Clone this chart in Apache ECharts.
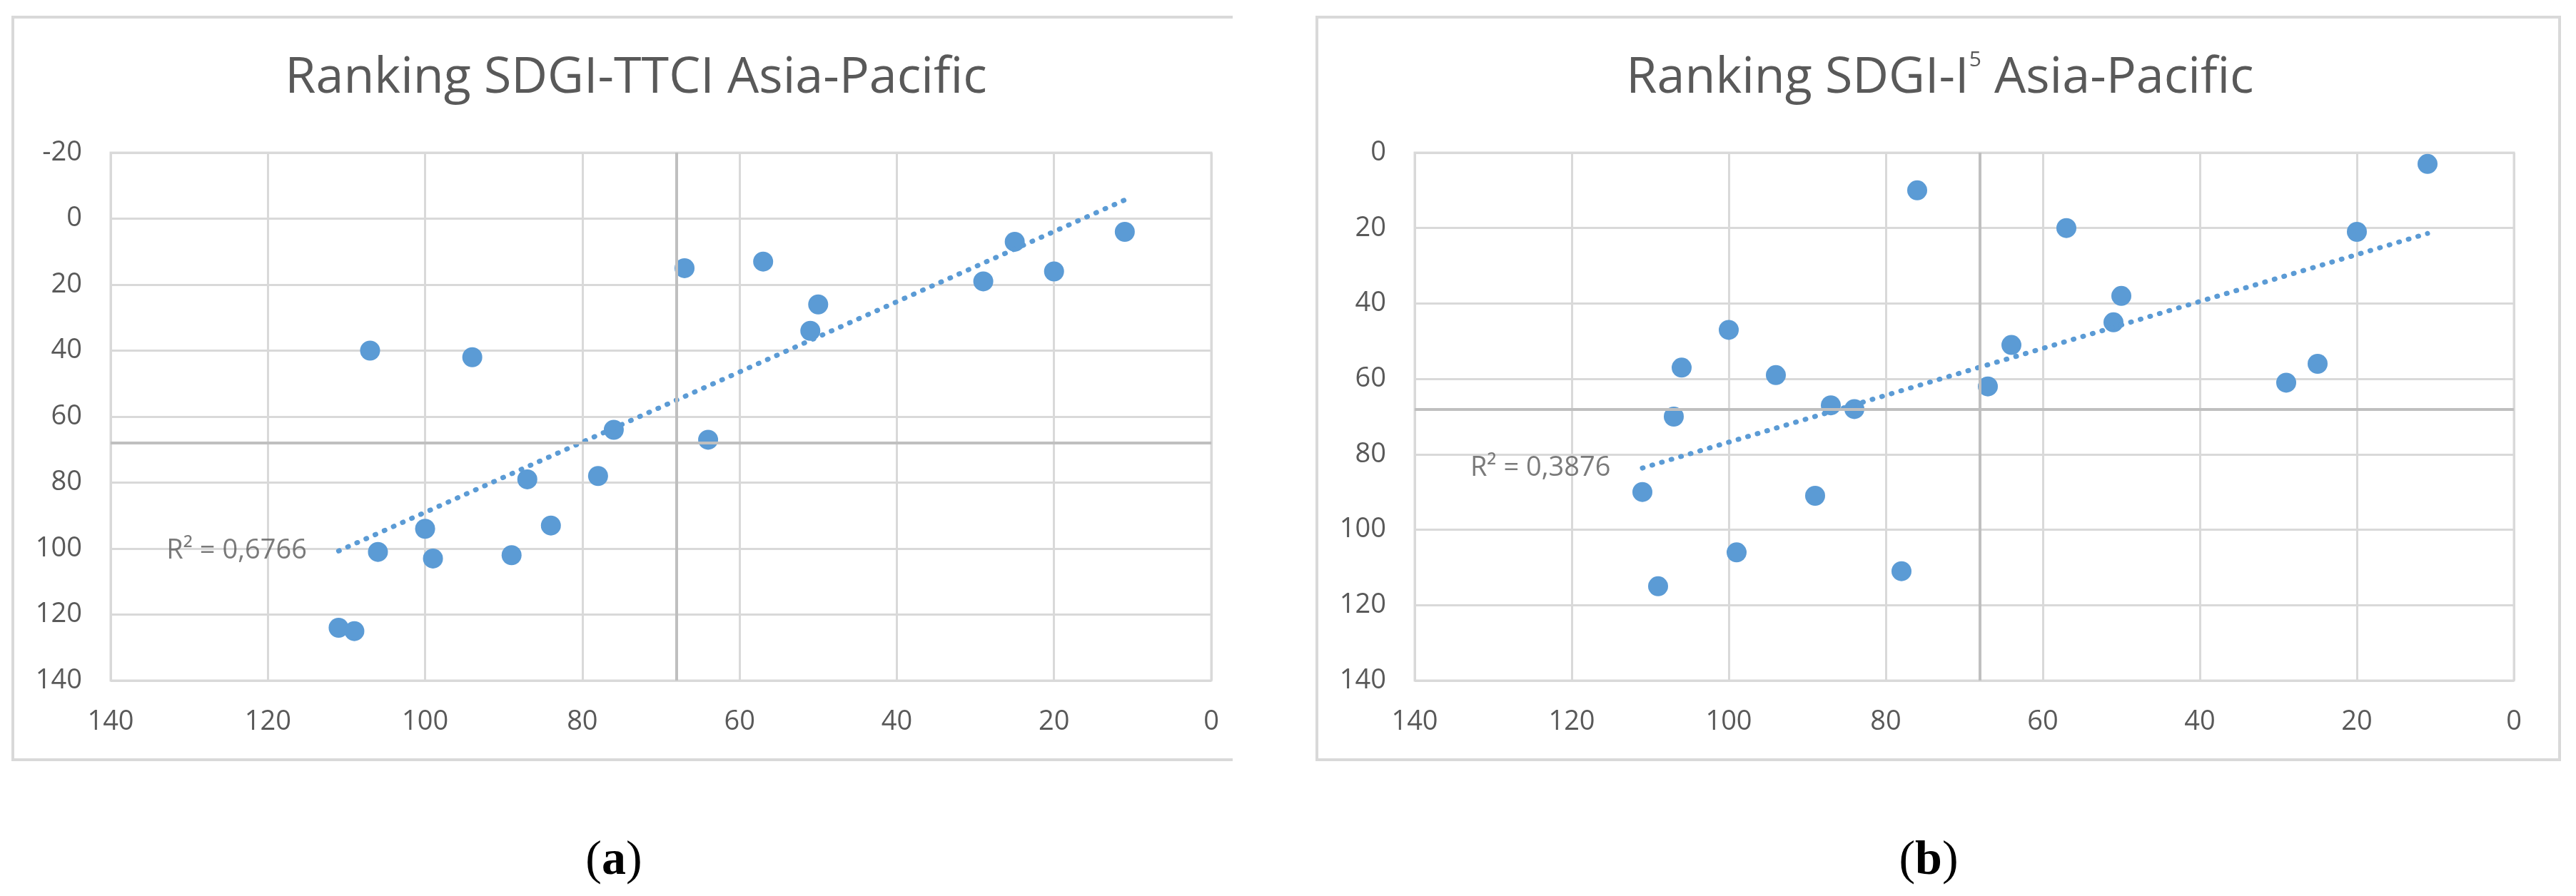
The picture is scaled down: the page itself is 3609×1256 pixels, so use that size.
<!DOCTYPE html>
<html>
<head>
<meta charset="utf-8">
<script src="https://cdn.jsdelivr.net/npm/echarts@6/dist/echarts.min.js"></script>
<style>
html,body{margin:0;padding:0;background:#fff;}
#chart{width:3609px;height:1256px;}
</style>
</head>
<body>
<div id="chart"></div>
<script>
// ---- data ----
const sdgiRank = [11, 25, 20, 29, 57, 67, 50, 51, 107, 94, 76, 64, 78, 87, 84, 100, 106, 99, 89, 111, 109];
const ttciRank = [4, 7, 16, 19, 13, 15, 26, 34, 40, 42, 64, 67, 78, 79, 93, 94, 101, 103, 102, 124, 125];
const isRank   = [3, 56, 21, 61, 20, 62, 38, 45, 70, 59, 10, 51, 111, 67, 68, 47, 57, 106, 91, 90, 115];
const titles = ['Ranking SDGI-TTCI Asia-Pacific', 'Ranking SDGI-I{sup|5} Asia-Pacific'];
const r2Labels = ['R² = 0,6766', 'R² = 0,3876'];
const refLines = [68, 68];            // vertical (x) and horizontal (y) reference lines
const yMins = [-20, 0];
const axisMax = 140;
const tickStep = 20;
const panelLabels = ['a', 'b'];

// ---- helpers ----
function pairs(xs, ys) { return xs.map((x, i) => [x, ys[i]]); }
function trend(xs, ys) {
  const n = xs.length;
  const mx = xs.reduce((a, b) => a + b, 0) / n;
  const my = ys.reduce((a, b) => a + b, 0) / n;
  let sxy = 0, sxx = 0;
  for (let i = 0; i < n; i++) { sxy += (xs[i] - mx) * (ys[i] - my); sxx += (xs[i] - mx) ** 2; }
  const b = sxy / sxx, a = my - b * mx;
  const x0 = Math.max(...xs), x1 = Math.min(...xs);
  return [[x0, a + b * x0], [x1, a + b * x1]];
}

const FONT = 'Open Sans';
const GRAY = '#595959';
const GRID = '#d9d9d9';
const BLUE = '#5b9bd5';

const panels = [
  { ys: ttciRank, left: 155, width: 1542 },
  { ys: isRank, left: 1982, width: 1540 }
];

const grids = [], xAxes = [], yAxes = [], series = [];
panels.forEach((p, i) => {
  grids.push({ left: p.left, top: 214, width: p.width, height: 740, show: true,
    borderColor: GRID, borderWidth: 3, backgroundColor: 'transparent' });
  xAxes.push({ gridIndex: i, type: 'value', min: 0, max: axisMax, interval: tickStep, inverse: true,
    axisLine: { show: false }, axisTick: { show: false },
    splitLine: { show: true, lineStyle: { color: GRID, width: 3 } },
    axisLabel: { fontFamily: FONT, fontSize: 38, color: GRAY, margin: 39 } });
  yAxes.push({ gridIndex: i, type: 'value', min: yMins[i], max: axisMax, interval: tickStep, inverse: true,
    axisLine: { show: false }, axisTick: { show: false },
    splitLine: { show: true, lineStyle: { color: GRID, width: 3 } },
    axisLabel: { fontFamily: FONT, fontSize: 38, color: GRAY, margin: 40 } });
  // reference lines
  series.push({ type: 'scatter', xAxisIndex: i, yAxisIndex: i, data: [], z: 1, silent: true,
    markLine: { silent: true, symbol: 'none', animation: false, label: { show: false },
      lineStyle: { color: '#bfbfbf', width: 4, type: 'solid' },
      data: [{ xAxis: refLines[0] }, { yAxis: refLines[1] }] } });
  const tl = trend(sdgiRank, p.ys);
  // points
  series.push({ type: 'scatter', xAxisIndex: i, yAxisIndex: i, z: 3, symbol: 'circle', symbolSize: 28,
    itemStyle: { color: BLUE, opacity: 1 }, data: pairs(sdgiRank, p.ys) });
  // trendline
  series.push({ type: 'line', xAxisIndex: i, yAxisIndex: i, z: 4, symbol: 'none', silent: true,
    lineStyle: { color: BLUE, width: 7, type: [1, 13], cap: 'round' }, data: tl });
  // R² label anchored on the trendline start
  series.push({ type: 'scatter', xAxisIndex: i, yAxisIndex: i, z: 5, symbolSize: 1, silent: true,
    itemStyle: { color: 'rgba(0,0,0,0)' },
    label: { show: true, position: 'left', distance: 44, formatter: r2Labels[i],
      fontFamily: FONT, fontSize: 38, color: GRAY },
    data: [tl[0]] });
});

const graphic = [
  { type: 'polyline', z: 0, shape: { points: [[1727, 24], [18, 24], [18, 1065], [1727, 1065]] },
    style: { stroke: GRID, lineWidth: 4, fill: null } },
  { type: 'rect', z: 0, shape: { x: 1845, y: 24, width: 1741, height: 1041 },
    style: { stroke: GRID, lineWidth: 4, fill: 'none' } },
];
const titleX = [891, 2718];
titles.forEach((t, i) => {
  graphic.push({ type: 'text', x: titleX[i], y: 110, z: 10,
    style: { text: t, fill: GRAY, fontFamily: FONT, fontSize: 70, fontWeight: 'normal',
      align: 'center', verticalAlign: 'middle', textAlign: 'center', textVerticalAlign: 'middle',
      lineHeight: 82,
      rich: { sup: { fontFamily: FONT, fontSize: 30, fontWeight: 'normal', fill: GRAY, lineHeight: 58, verticalAlign: 'top' } } } });
});
const subX = [860, 2702];
panelLabels.forEach((l, i) => {
  graphic.push({ type: 'text', x: subX[i], y: 1207, z: 10,
    style: { text: '{p|(}{b|' + l + '}{p|)}', align: 'center', verticalAlign: 'middle',
      textAlign: 'center', textVerticalAlign: 'middle',
      rich: { p: { fontFamily: 'Liberation Serif', fontSize: 68, fill: '#000' },
              b: { fontFamily: 'Liberation Serif', fontSize: 68, fontWeight: 'bold', fill: '#000' } } } });
});

const chart = echarts.init(document.getElementById('chart'), null, { renderer: 'canvas' });
chart.setOption({
  animation: false,
  backgroundColor: '#ffffff',
  grid: grids, xAxis: xAxes, yAxis: yAxes, series: series, graphic: graphic
});
</script>
</body>
</html>
